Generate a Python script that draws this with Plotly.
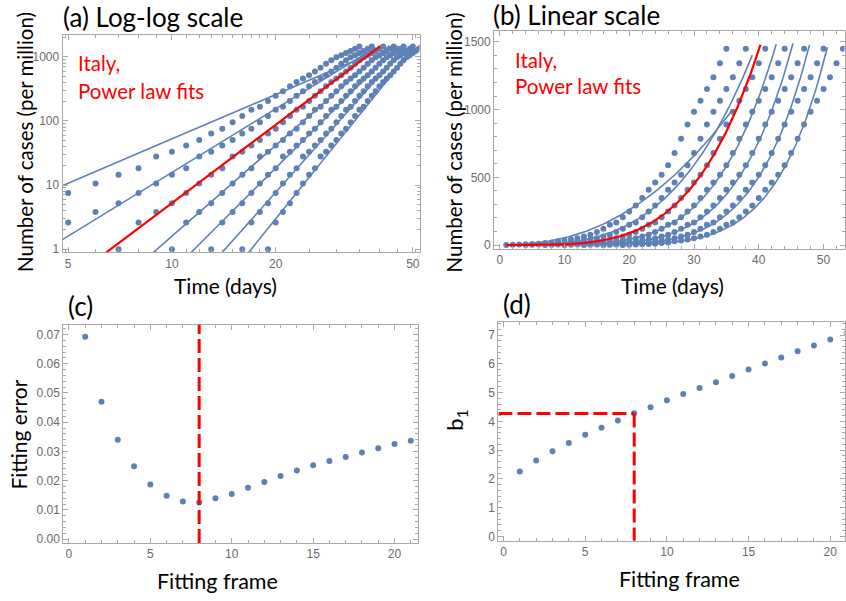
import numpy as np
import plotly.graph_objects as go

W, H = 846, 601

# ---------------- data ----------------
# Italy, cumulative cases per million, day 1..35 of the first frame
cases_per_million = [1.0, 2.6, 3.8, 5.2, 7.5, 10.6, 14.5, 18.3, 28, 33, 41.5, 50.5, 64, 76, 96,
                     120, 150, 167, 205, 248, 292, 348, 408, 462, 520, 590, 680, 785, 890, 985,
                     1065, 1152, 1240, 1342, 1450]
series_shift_days = [0, 3, 6, 9, 12, 15, 18]

# power-law fits y = (t / t_one) ** exponent
fit_exponent = [2.30, 3.30, 4.05, 4.71, 5.37, 6.03, 6.68]
fit_t_one = [1.785, 4.34, 6.64, 9.06, 11.62, 14.26, 17.0]
fit_t_end = [36, 39, 42, 45, 48, 51, 54]
fit_is_red = [False, False, True, False, False, False, False]
fit_cap = 1500

frames = list(range(1, 22))
fitting_error = [0.0692, 0.0470, 0.0340, 0.0249, 0.0187, 0.0148, 0.0129, 0.0125, 0.0140,
                 0.0154, 0.0176, 0.0195, 0.0216, 0.0235, 0.0253, 0.0267, 0.0281, 0.0296,
                 0.0311, 0.0325, 0.0336]
b1_values = [2.26, 2.64, 2.96, 3.25, 3.53, 3.78, 4.03, 4.28, 4.49, 4.73, 4.95, 5.16, 5.36,
             5.58, 5.80, 6.01, 6.22, 6.44, 6.64, 6.85, 7.08]
chosen_frame = 8
chosen_b1 = 4.27

# ---------------- style ----------------
BLUE = "#5E81B5"
RED = "#FF0000"
FRAME = "#a8a8a8"
TICKTXT = "#6a6a6a"
FONT = "Lato"


def px(x):
    return x / W


def py(y):
    return 1 - y / H


fig = go.Figure()

# dots + fits for (a) and (b)
for axes in [("x", "y"), ("x2", "y2")]:
    for k, sh in enumerate(series_shift_days):
        t = [d + 1 + sh for d in range(len(cases_per_million))]
        fig.add_trace(go.Scatter(x=t, y=cases_per_million, mode="markers",
                                 marker=dict(color=BLUE, size=6, line=dict(width=0)),
                                 xaxis=axes[0], yaxis=axes[1], showlegend=False))
    order = [i for i in range(len(fit_exponent)) if not fit_is_red[i]] + \
            [i for i in range(len(fit_exponent)) if fit_is_red[i]]
    for i in order:
        tt = np.geomspace(1, fit_t_end[i], 800)
        yy = (tt / fit_t_one[i]) ** fit_exponent[i]
        m = yy <= fit_cap
        fig.add_trace(go.Scatter(x=tt[m], y=yy[m], mode="lines",
                                 line=dict(color=RED if fit_is_red[i] else BLUE,
                                           width=2.2 if fit_is_red[i] else 1.6),
                                 xaxis=axes[0], yaxis=axes[1], showlegend=False))

# (c)
fig.add_trace(go.Scatter(x=frames, y=fitting_error, mode="markers",
                         marker=dict(color=BLUE, size=6), xaxis="x3", yaxis="y3",
                         showlegend=False))
# (d)
fig.add_trace(go.Scatter(x=frames, y=b1_values, mode="markers",
                         marker=dict(color=BLUE, size=6), xaxis="x4", yaxis="y4",
                         showlegend=False))

common = dict(showline=True, linecolor=FRAME, linewidth=1, mirror="allticks",
              ticks="inside", ticklen=5, tickcolor=FRAME, tickwidth=1,
              tickfont=dict(family="Liberation Sans", size=12, color=TICKTXT),
              showgrid=False, zeroline=False)


def minor(vals, ln=3):
    return dict(ticks="inside", ticklen=ln, tickcolor=FRAME, tickwidth=1, tickvals=vals)


logminor_x = [4.8, 4.9] + [6, 7, 8, 9] + [11, 12, 13, 14, 15, 16, 17, 18, 19] + \
             [30, 40] + [25, 35, 45, 51, 52]
logminor_y = [m * 10 ** e for e in range(0, 4) for m in range(2, 10)]

layout = dict(
    width=W, height=H, margin=dict(l=0, r=0, t=0, b=0), autosize=False,
    paper_bgcolor="white", plot_bgcolor="white", showlegend=False,
    xaxis=dict(common, domain=[px(62.7), px(420)], type="log", range=[0.6828, 1.7184],
               tickvals=[5, 10, 20, 50], ticktext=["5", "10", "20", "50"],
               minor=minor(logminor_x), anchor="y"),
    yaxis=dict(common, domain=[py(254), py(35)], type="log", range=[-0.0496, 3.346],
               tickvals=[1, 10, 100, 1000], ticktext=["1", "10", "100", "1000"],
               minor=minor(logminor_y), anchor="x"),
    xaxis2=dict(common, domain=[px(494.7), px(845.5)], range=[-0.87, 53.24],
                tickvals=[0, 10, 20, 30, 40, 50], minor=minor(list(range(0, 54, 2))),
                anchor="y2"),
    yaxis2=dict(common, domain=[py(250.7), py(31.7)], range=[-29.3, 1577],
                tickvals=[0, 500, 1000, 1500], minor=minor(list(range(0, 1600, 100))),
                anchor="x2"),
    xaxis3=dict(common, domain=[px(63.3), px(418.3)], range=[-0.35, 21.43],
                tickvals=[0, 5, 10, 15, 20], minor=minor(list(range(0, 22))), anchor="y3"),
    yaxis3=dict(common, domain=[py(546.7), py(326.7)], range=[-0.00136, 0.0734],
                tickvals=[0, 0.01, 0.02, 0.03, 0.04, 0.05, 0.06, 0.07], tickformat=".2f",
                minor=minor([i * 0.002 for i in range(37)]), anchor="x3"),
    xaxis4=dict(common, domain=[px(499), px(845.5)], range=[-0.31, 20.87],
                tickvals=[0, 5, 10, 15, 20], minor=minor(list(range(0, 21))), anchor="y4"),
    yaxis4=dict(common, domain=[py(544.3), py(324.3)], range=[-0.15, 7.45],
                tickvals=list(range(0, 8)), minor=minor([i * 0.2 for i in range(38)]),
                anchor="x4"),
)
fig.update_layout(**layout)

# red dashed guide lines
dash = "14px,5px"
fig.add_shape(type="line", xref="x3", yref="y3", x0=chosen_frame, x1=chosen_frame,
              y0=-0.00136, y1=0.0734, line=dict(color=RED, width=3, dash=dash))
fig.add_shape(type="line", xref="x4", yref="y4", x0=-0.31, x1=chosen_frame,
              y0=chosen_b1, y1=chosen_b1, line=dict(color=RED, width=3, dash=dash))
fig.add_shape(type="line", xref="x4", yref="y4", x0=chosen_frame, x1=chosen_frame,
              y0=chosen_b1, y1=-0.15, line=dict(color=RED, width=3, dash=dash))


def ann(text, x, y, size, color="black", xanchor="center", angle=0):
    fig.add_annotation(text=text, x=px(x), y=py(y), xref="paper", yref="paper",
                       showarrow=False, xanchor=xanchor, yanchor="middle",
                       textangle=angle, font=dict(family=FONT, size=size, color=color))


ann("(a) Log-log scale", 61, 17.5, 26, xanchor="left")
ann("(b) Linear scale", 492, 15, 26, xanchor="left")
ann("(c)", 66, 308, 26, xanchor="left")
ann("(d)", 502, 306, 26, xanchor="left")

ann("Number of cases (per million)", 25, 143, 20.5, angle=-90)
ann("Number of cases (per million)", 455, 143, 20.5, angle=-90)
ann("Time (days)", 226, 287, 21)
ann("Time (days)", 673, 287, 21)
ann("Fitting error", 18.5, 437, 21, angle=-90)
ann("Fitting frame", 218, 585, 21.5)
ann("b<sub>1</sub>", 457, 423, 22, angle=-90)
ann("Fitting frame", 680, 583, 21.5)

ann("Italy,", 76, 63, 20.5, color=RED, xanchor="left")
ann("Power law fits", 76, 92, 20.5, color=RED, xanchor="left")
ann("Italy,", 514, 60, 20.5, color=RED, xanchor="left")
ann("Power law fits", 514, 87, 20.5, color=RED, xanchor="left")

fig.write_html("out.html")
